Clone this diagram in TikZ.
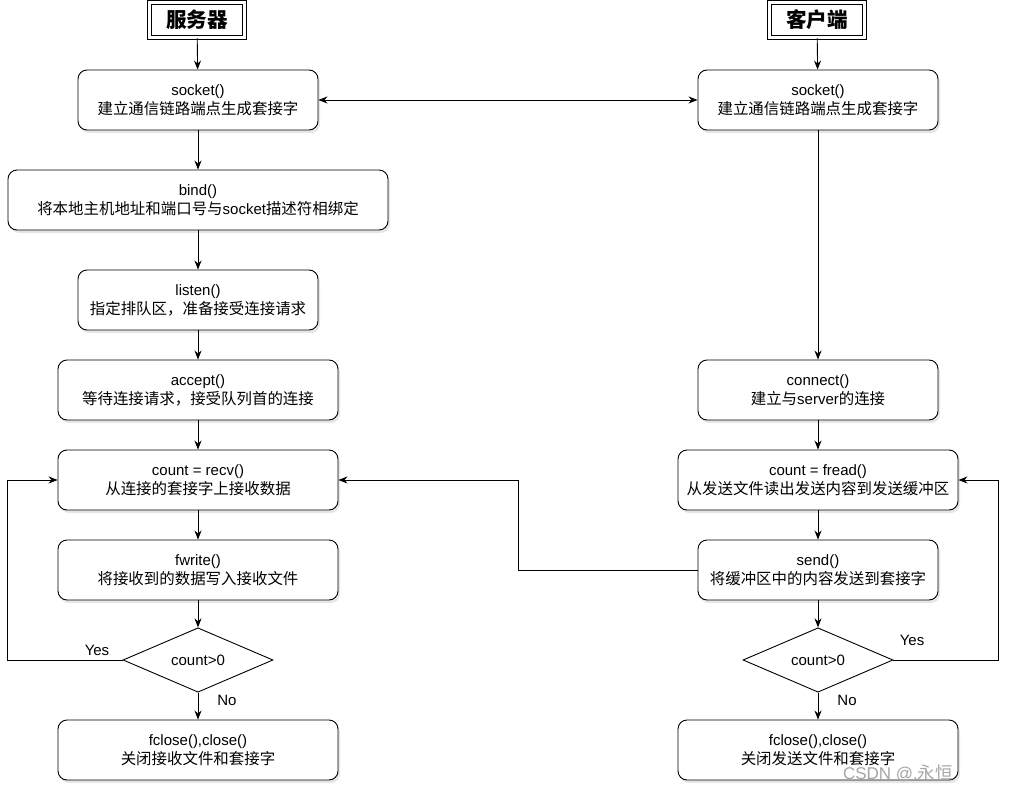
\documentclass[tikz,border=0pt]{standalone}
\usepackage{fontspec}
\setmainfont{Liberation Sans}
\newfontfamily\cjk[Scale=1.03]{Noto Sans CJK SC}
\usetikzlibrary{shapes.geometric,arrows.meta,shadows}
\begin{document}
\begin{tikzpicture}[x=1pt, y=-1pt, font=\fontsize{15}{19}\selectfont,
	shade/.style={drop shadow={opacity=0.2, shadow xshift=2pt, shadow yshift=-3pt}},
	box/.style={draw, rounded corners=9pt, line width=0.9pt, fill=white, shade, minimum height=60pt, align=center, inner sep=0pt},
	cond/.style={draw, diamond, line width=0.9pt, fill=white, minimum width=150pt, minimum height=60pt, inner sep=0pt},
	title/.style={draw, double, double distance=3pt, line width=1.3pt, fill=white, shade, minimum width=95pt, minimum height=35pt, inner sep=0pt, font=\fontsize{20}{24}\selectfont},
	arr/.style={-{Stealth[length=9pt, width=7pt]}, line width=0.9pt}]
	\useasboundingbox (0,0) rectangle (1018,792);
	% Server column
	\node[title] (t1) at (197,20) {\cjk\bfseries 服务器};
	\node[box, minimum width=240pt] (s1) at (198,100) {socket()\\{\cjk 建立通信链路端点生成套接字}};
	\node[box, minimum width=380pt] (b1) at (198,200) {bind()\\{\cjk 将本地主机地址和端口号与}socket{\cjk 描述符相绑定}};
	\node[box, minimum width=240pt] (l1) at (198,300) {listen()\\{\cjk 指定排队区，准备接受连接请求}};
	\node[box, minimum width=280pt] (a1) at (198,390) {accept()\\{\cjk 等待连接请求，接受队列首的连接}};
	\node[box, minimum width=280pt] (r1) at (198,480) {count = recv()\\{\cjk 从连接的套接字上接收数据}};
	\node[box, minimum width=280pt] (w1) at (198,570) {fwrite()\\{\cjk 将接收到的数据写入接收文件}};
	\node[cond] (d1) at (198,660) {count\textgreater0};
	\node[box, minimum width=280pt] (c1) at (198,750) {fclose(),close()\\{\cjk 关闭接收文件和套接字}};
	% Client column
	\node[title] (t2) at (817,20) {\cjk\bfseries 客户端};
	\node[box, minimum width=240pt] (s2) at (818,100) {socket()\\{\cjk 建立通信链路端点生成套接字}};
	\node[box, minimum width=240pt] (n2) at (818,390) {connect()\\{\cjk 建立与}server{\cjk 的连接}};
	\node[box, minimum width=280pt] (f2) at (818,480) {count = fread()\\{\cjk 从发送文件读出发送内容到发送缓冲区}};
	\node[box, minimum width=240pt] (e2) at (818,570) {send()\\{\cjk 将缓冲区中的内容发送到套接字}};
	\node[cond] (d2) at (818,660) {count\textgreater0};
	\node[box, minimum width=280pt] (c2) at (818,750) {fclose(),close()\\{\cjk 关闭发送文件和套接字}};
	% Server flow
	\draw[arr] (t1) -- (s1);
	\draw[arr] (s1) -- (b1);
	\draw[arr] (b1) -- (l1);
	\draw[arr] (l1) -- (a1);
	\draw[arr] (a1) -- (r1);
	\draw[arr] (r1) -- (w1);
	\draw[arr] (w1) -- (d1);
	\draw[arr] (d1) -- (c1);
	\draw[arr] (d1.west) -| ([xshift=-50pt]r1.west) -- (r1.west);
	\node (y1) at (97,650) {Yes};
	\node (o1) at (227,700) {No};
	% Client flow
	\draw[arr] (t2) -- (s2);
	\draw[arr] (s2) -- (n2);
	\draw[arr] (n2) -- (f2);
	\draw[arr] (f2) -- (e2);
	\draw[arr] (e2) -- (d2);
	\draw[arr] (d2) -- (c2);
	\draw[arr] (d2.east) -| ([xshift=40pt]f2.east) -- (f2.east);
	\node (y2) at (912,640) {Yes};
	\node (o2) at (847,700) {No};
	% Between the two
	\draw[arr, {Stealth[length=9pt, width=7pt]}-{Stealth[length=9pt, width=7pt]}] (s1) -- (s2);
	\draw[arr] (e2.west) -| ([xshift=180pt]r1.east) -- (r1.east);
	% Watermark
	\node[text=black!35, font=\fontsize{17}{20}\selectfont] (wm) at (898,773) {CSDN @.{\cjk 永恒}};
\end{tikzpicture}
\end{document}
